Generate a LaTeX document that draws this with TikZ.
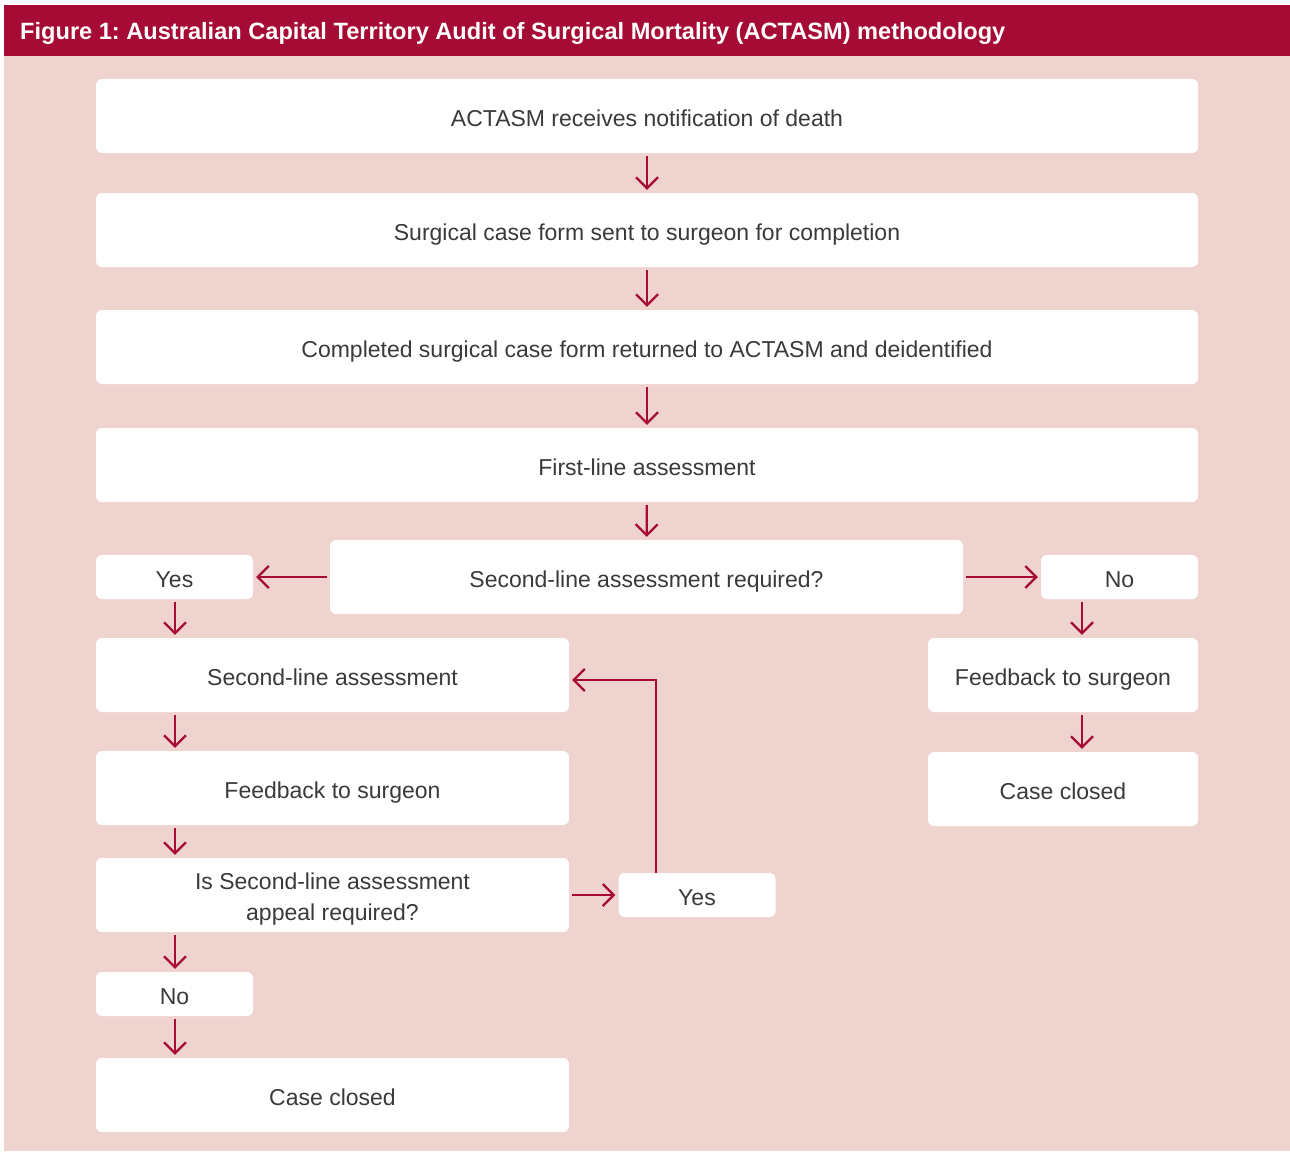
\documentclass[tikz,border=0pt]{standalone}
\usepackage{fontspec}
\setmainfont{Liberation Sans}
\usetikzlibrary{arrows.meta,calc}
\definecolor{crimson}{HTML}{A50B34}
\definecolor{pinkbg}{HTML}{EFD3CF}
\definecolor{txt}{HTML}{3A3A3A}
\frenchspacing
\begin{document}
\begin{tikzpicture}[x=1pt,y=-1pt,
  box/.style={fill=white,rounded corners=6pt,inner sep=0pt,text=txt,
    font=\fontsize{23}{31}\selectfont,align=center},
  one/.style={text height=25pt,text depth=5pt},
  flow/.style={draw=crimson,line width=2.2pt,
    -{Straight Barb[length=11pt,width=22pt,line width=2.2pt]},
    shorten >=3pt,shorten <=3pt}]
\useasboundingbox (0,0) rectangle (1290,1151);
\fill[pinkbg] (4,56) rectangle (1290,1151);
\fill[crimson] (4,5) rectangle (1290,56);
\node[anchor=west,text=white,font=\bfseries\fontsize{23.6}{26}\selectfont,inner sep=0pt] (title) at (20,33) {Figure 1: Australian Capital Territory Audit of Surgical Mortality (ACTASM) methodology};
% main column
\node[box,one,minimum width=1102pt,minimum height=74pt] (b1) at (647,116) {ACTASM receives notification of death};
\node[box,one,minimum width=1102pt,minimum height=74pt] (b2) at (647,230) {Surgical case form sent to surgeon for completion};
\node[box,one,minimum width=1102pt,minimum height=74pt] (b3) at (647,347) {Completed surgical case form returned to ACTASM and deidentified};
\node[box,one,minimum width=1102pt,minimum height=74pt] (b4) at (647,465) {First-line assessment};
\node[box,one,minimum width=633pt,minimum height=74pt] (b5) at (646.5,577) {Second-line assessment required?};
% left branch
\node[box,one,minimum width=157pt,minimum height=44pt] (yl) at (174.5,577) {Yes};
\node[box,one,minimum width=473pt,minimum height=74pt] (sla) at (332.5,675) {Second-line assessment};
\node[box,one,minimum width=473pt,minimum height=74pt] (fbl) at (332.5,788) {Feedback to surgeon};
\node[box,minimum width=473pt,minimum height=74pt] (app) at (332.5,895) {\rule{0pt}{25pt}Is Second-line assessment\\appeal required?};
\node[box,one,minimum width=157pt,minimum height=44pt] (ym) at (697,895) {Yes};
\node[box,one,minimum width=157pt,minimum height=44pt] (nl) at (174.5,994) {No};
\node[box,one,minimum width=473pt,minimum height=74pt] (ccl) at (332.5,1095) {Case closed};
% right branch
\node[box,one,minimum width=157pt,minimum height=44pt] (nr) at (1119.5,577) {No};
\node[box,one,minimum width=270pt,minimum height=74pt] (fbr) at (1063,675) {Feedback to surgeon};
\node[box,one,minimum width=270pt,minimum height=74pt] (ccr) at (1063,789) {Case closed};
\coordinate (xl) at (175,0);
\coordinate (xr) at (1082,0);
\coordinate (xloop) at (656,0);
\coordinate (yloop) at (0,680);
% connectors
\draw[flow] (b1) -- (b2);
\draw[flow] (b2) -- (b3);
\draw[flow] (b3) -- (b4);
\draw[flow] (b4) -- (b5);
\draw[flow] (b5) -- (yl);
\draw[flow] (b5) -- (nr);
\draw[flow] (yl.south -| xl) -- (sla.north -| xl);
\draw[flow] (sla.south -| xl) -- (fbl.north -| xl);
\draw[flow] (fbl.south -| xl) -- (app.north -| xl);
\draw[flow] (app.south -| xl) -- (nl.north -| xl);
\draw[flow] (nl.south -| xl) -- (ccl.north -| xl);
\draw[flow] (app) -- (ym);
\draw[flow,shorten <=0pt] (ym.north -| xloop) -- (yloop -| xloop) -- (yloop -| sla.east);
\draw[flow] (nr.south -| xr) -- (fbr.north -| xr);
\draw[flow] (fbr.south -| xr) -- (ccr.north -| xr);
\end{tikzpicture}
\end{document}
